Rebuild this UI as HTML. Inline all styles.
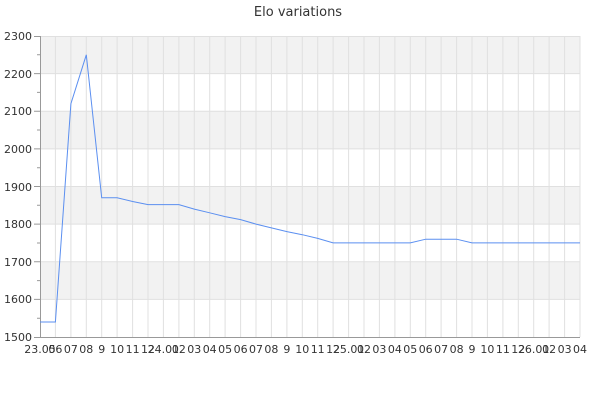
<!DOCTYPE html>
<html><head><style>body{margin:0;background:#fff}svg{display:block}text{font-family:"DejaVu Sans","Liberation Sans",sans-serif;fill:#333}</style></head><body>
<svg width="600" height="400" xmlns="http://www.w3.org/2000/svg">
<text x="298" y="16" font-size="13" text-anchor="middle">Elo variations</text>
<g fill="#f2f2f2">
<rect x="40" y="36" width="540" height="37.6"/>
<rect x="40" y="111.25" width="540" height="37.6"/>
<rect x="40" y="186.5" width="540" height="37.6"/>
<rect x="40" y="261.75" width="540" height="37.6"/>
</g>
<g stroke="#e0e0e0" stroke-width="1" fill="none">
<path d="M55.4 36V337M70.9 36V337M86.3 36V337M101.7 36V337M117.1 36V337M132.6 36V337M148 36V337M163.4 36V337M178.9 36V337M194.3 36V337M209.7 36V337M225.1 36V337M240.6 36V337M256 36V337M271.4 36V337M286.9 36V337M302.3 36V337M317.7 36V337M333.1 36V337M348.6 36V337M364 36V337M379.4 36V337M394.9 36V337M410.3 36V337M425.7 36V337M441.1 36V337M456.6 36V337M472 36V337M487.4 36V337M502.9 36V337M518.3 36V337M533.7 36V337M549.1 36V337M564.6 36V337M580 36V337"/>
<path d="M40 36.5H580M40 73.6H580M40 111.25H580M40 148.9H580M40 186.5H580M40 224.1H580M40 261.75H580M40 299.4H580"/>
</g>
<g stroke="#999" stroke-width="1" fill="none">
<path d="M40.5 36V337.5H580"/>
<path d="M34 36.5H40M34 73.6H40M34 111.25H40M34 148.9H40M34 186.5H40M34 224.1H40M34 261.75H40M34 299.4H40M34 337.5H40"/>
<path d="M37 54.8H40M37 92.4H40M37 130H40M37 167.7H40M37 205.3H40M37 243H40M37 280.6H40M37 318.2H40"/>
</g>
<g font-size="11" text-anchor="end">
<text x="32" y="40">2300</text><text x="32" y="78">2200</text><text x="32" y="115">2100</text><text x="32" y="153">2000</text><text x="32" y="191">1900</text><text x="32" y="228">1800</text><text x="32" y="266">1700</text><text x="32" y="303">1600</text><text x="32" y="341">1500</text>
</g>
<g font-size="11" text-anchor="middle">
<text x="40" y="353">23.05</text><text x="55.4" y="353">06</text><text x="70.9" y="353">07</text><text x="86.3" y="353">08</text><text x="101.7" y="353">9</text><text x="117.1" y="353">10</text><text x="132.6" y="353">11</text><text x="148" y="353">12</text><text x="163.4" y="353">24.01</text><text x="178.9" y="353">02</text><text x="194.3" y="353">03</text><text x="209.7" y="353">04</text><text x="225.1" y="353">05</text><text x="240.6" y="353">06</text><text x="256" y="353">07</text><text x="271.4" y="353">08</text><text x="286.9" y="353">9</text><text x="302.3" y="353">10</text><text x="317.7" y="353">11</text><text x="333.1" y="353">12</text><text x="348.6" y="353">25.01</text><text x="364" y="353">02</text><text x="379.4" y="353">03</text><text x="394.9" y="353">04</text><text x="410.3" y="353">05</text><text x="425.7" y="353">06</text><text x="441.1" y="353">07</text><text x="456.6" y="353">08</text><text x="472" y="353">9</text><text x="487.4" y="353">10</text><text x="502.9" y="353">11</text><text x="518.3" y="353">12</text><text x="533.7" y="353">26.01</text><text x="549.1" y="353">02</text><text x="564.6" y="353">03</text><text x="580" y="353">04</text>
</g>
<polyline fill="none" stroke="#5b8ff0" stroke-width="1" points="40,322 55.4,322 70.9,103.7 86.3,54.8 101.7,197.8 117.1,197.8 132.6,201.5 148,204.6 163.4,204.6 178.9,204.6 194.3,209.1 209.7,212.8 225.1,216.6 240.6,219.6 256,224.1 271.4,227.9 286.9,231.6 302.3,234.7 317.7,238.4 333.1,242.9 348.6,242.9 364,242.9 379.4,242.9 394.9,242.9 410.3,242.9 425.7,239.2 441.1,239.2 456.6,239.2 472,242.9 487.4,242.9 502.9,242.9 518.3,242.9 533.7,242.9 549.1,242.9 564.6,242.9 580,242.9"/>
</svg>
</body></html>
